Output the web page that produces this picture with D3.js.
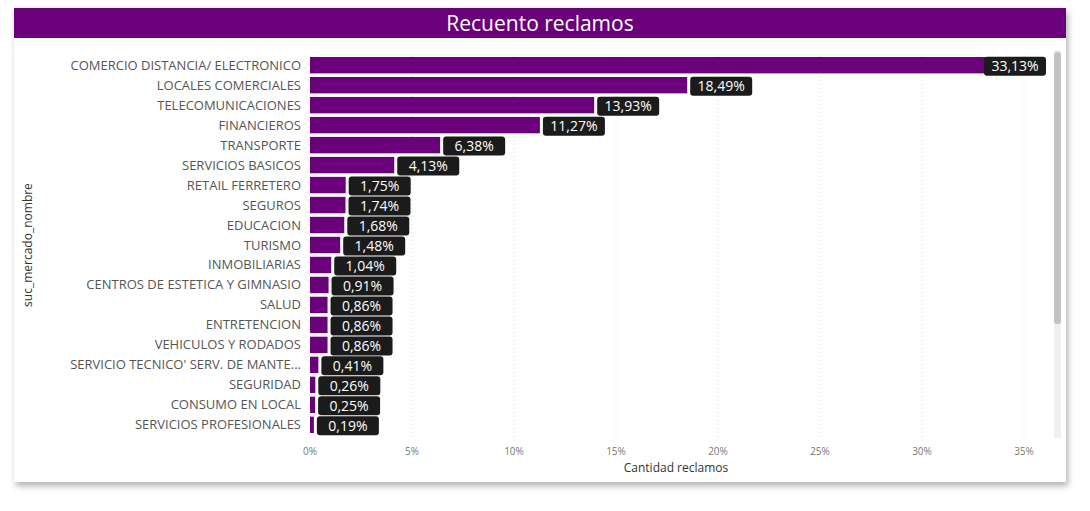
<!DOCTYPE html>
<html><head><meta charset="utf-8">
<script src="https://cdn.jsdelivr.net/npm/d3@7"></script>
<style>body{margin:0;background:#fff;font-family:"Open Sans",sans-serif}</style>
</head><body><svg id="c" width="1090" height="511"></svg>
<script>
const categories = ["COMERCIO DISTANCIA/ ELECTRONICO","LOCALES COMERCIALES","TELECOMUNICACIONES","FINANCIEROS","TRANSPORTE","SERVICIOS BASICOS","RETAIL FERRETERO","SEGUROS","EDUCACION","TURISMO","INMOBILIARIAS","CENTROS DE ESTETICA Y GIMNASIO","SALUD","ENTRETENCION","VEHICULOS Y RODADOS","SERVICIO TECNICO' SERV. DE MANTE...","SEGURIDAD","CONSUMO EN LOCAL","SERVICIOS PROFESIONALES"];
const values = [33.13,18.49,13.93,11.27,6.38,4.13,1.75,1.74,1.68,1.48,1.04,0.91,0.86,0.86,0.86,0.41,0.26,0.25,0.19];
const ticks = [0,5,10,15,20,25,30,35];

const svg = d3.select("#c");
const purple = "#6b007b";
// card with shadow
svg.append("defs").append("filter").attr("id","sh").attr("x","-5%").attr("y","-5%").attr("width","110%").attr("height","115%")
  .append("feDropShadow").attr("dx",2).attr("dy",4).attr("stdDeviation",3).attr("flood-color","#000").attr("flood-opacity",0.3);
svg.append("rect").attr("x",14).attr("y",8).attr("width",1052).attr("height",474).attr("fill","#fff").attr("filter","url(#sh)");
svg.append("rect").attr("x",14).attr("y",8).attr("width",1052).attr("height",30).attr("fill",purple);
svg.append("text").attr("x",540).attr("y",31).attr("text-anchor","middle").attr("fill","#fff")
  .attr("font-size",21).text("Recuento reclamos");

const x = d3.scaleLinear().domain([0,35]).range([310,1024]);
const y = d3.scaleBand().domain(categories).range([56,434]).paddingInner(0.18).paddingOuter(0.05);

const g = svg.append("g");
g.selectAll(".grid").data(ticks.slice(1)).enter().append("line")
  .attr("x1",d=>x(d)).attr("x2",d=>x(d)).attr("y1",56).attr("y2",438)
  .attr("stroke","#ddd").attr("stroke-dasharray","1,3");
g.selectAll(".tick").data(ticks).enter().append("text")
  .attr("x",d=>x(d)).attr("y",455).attr("text-anchor","middle")
  .attr("font-size",10).attr("fill","#777").text(d=>d+"%");
svg.append("text").attr("x",676).attr("y",472).attr("text-anchor","middle").attr("font-size",12).attr("fill","#333").text("Cantidad reclamos");
svg.append("text").attr("transform","translate(32,245) rotate(-90)").attr("text-anchor","middle")
  .attr("font-size",12).attr("fill","#333").text("suc_mercado_nombre");

const rows = g.selectAll(".row").data(categories.map((c,i)=>({c,v:values[i]}))).enter().append("g");
rows.append("text").attr("x",301).attr("y",d=>y(d.c)+y.bandwidth()/2+4.5)
  .attr("text-anchor","end").attr("font-size",13).attr("fill","#555").text(d=>d.c);
rows.append("rect").attr("x",x(0)).attr("y",d=>y(d.c)).attr("height",y.bandwidth())
  .attr("width",d=>x(d.v)-x(0)).attr("fill",purple);
const fmt = v => v.toFixed(2).replace(".",",")+"%";
const bw = 62, bh = 19;
rows.each(function(d){
  let bx = x(d.v)+3;
  if (bx+bw > 1046) bx = 1046-bw;
  const s = d3.select(this);
  s.append("rect").attr("x",bx).attr("y",y(d.c)+y.bandwidth()/2-bh/2+1).attr("width",bw).attr("height",bh)
    .attr("rx",3).attr("fill","#1b1b1b");
  s.append("text").attr("x",bx+bw/2).attr("y",y(d.c)+y.bandwidth()/2+6).attr("text-anchor","middle")
    .attr("font-size",14).attr("fill","#fff").text(fmt(d.v));
});
// scrollbar
svg.append("rect").attr("x",1054).attr("y",50).attr("width",7).attr("height",388).attr("fill","#f0f0f0");
svg.append("rect").attr("x",1054).attr("y",52).attr("width",7).attr("height",272).attr("rx",3).attr("fill","#c2c2c2");
</script></body></html>
